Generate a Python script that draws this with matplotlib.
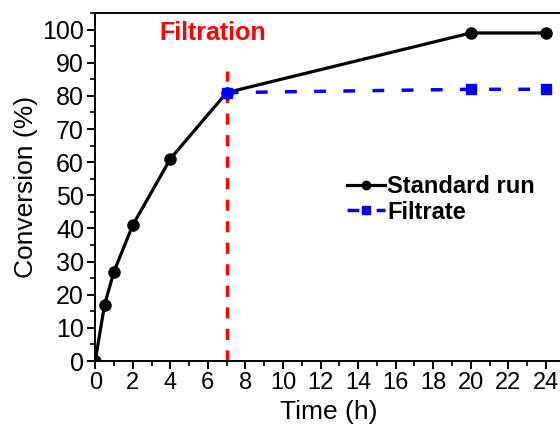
import matplotlib
matplotlib.use("Agg")
import matplotlib.pyplot as plt
from matplotlib.ticker import MultipleLocator

# data
time_std = [0, 0.5, 1, 2, 4, 7, 20, 24]
conv_std = [0, 17, 27, 41, 61, 81, 99, 99]
time_filt = [7, 20, 24]
conv_filt = [81, 82, 82]
filtration_time = 7
xticks = list(range(0, 25, 2))
yticks = list(range(0, 101, 10))

plt.rcParams['font.family'] = ['Liberation Sans', 'DejaVu Sans']

fig = plt.figure(figsize=(5.6, 4.36), dpi=100)
ax = fig.add_axes([0.17, 0.172, 0.835, 0.798])

ax.plot(time_std, conv_std, color='black', lw=2.3, marker='o', ms=8,
        label='Standard run', zorder=3)
ax.plot(time_filt, conv_filt, color='#0000ff', lw=2.5, marker='s', ms=7,
        dashes=(3.4, 5), label='Filtrate', zorder=4)
ax.plot([filtration_time, filtration_time], [0, 87.5], color='#ff0000',
        lw=2.5, dashes=(3.2, 3), zorder=2)

ax.text(6.25, 99, 'Filtration', color='#ff0000', fontsize=18, fontweight='bold',
        ha='center', va='center')

ax.set_xlim(0, 24.9)
ax.set_ylim(0, 105)
ax.set_xticks(xticks)
ax.set_yticks(yticks)
ax.xaxis.set_minor_locator(MultipleLocator(1))
ax.yaxis.set_minor_locator(MultipleLocator(5))
ax.tick_params(which='major', direction='out', length=6, width=1.4, labelsize=18, pad=2)
ax.tick_params(which='minor', direction='out', length=3.5, width=1.2)
ax.tick_params(axis='x', labelsize=17)
for s in ['left', 'bottom', 'top']:
    ax.spines[s].set_linewidth(1.4)
ax.spines['right'].set_visible(False)

ax.set_xlabel('Time (h)', fontsize=19, labelpad=4)
ax.set_ylabel('Conversion (%)', fontsize=19, labelpad=3)

leg = ax.legend(loc='center left', bbox_to_anchor=(0.514, 0.464), frameon=False,
                prop={'weight': 'bold', 'size': 17}, handlelength=1.6,
                handletextpad=0.1, labelspacing=0.1, borderpad=0, markerscale=0.75)

fig.savefig('out.png', dpi=100)
